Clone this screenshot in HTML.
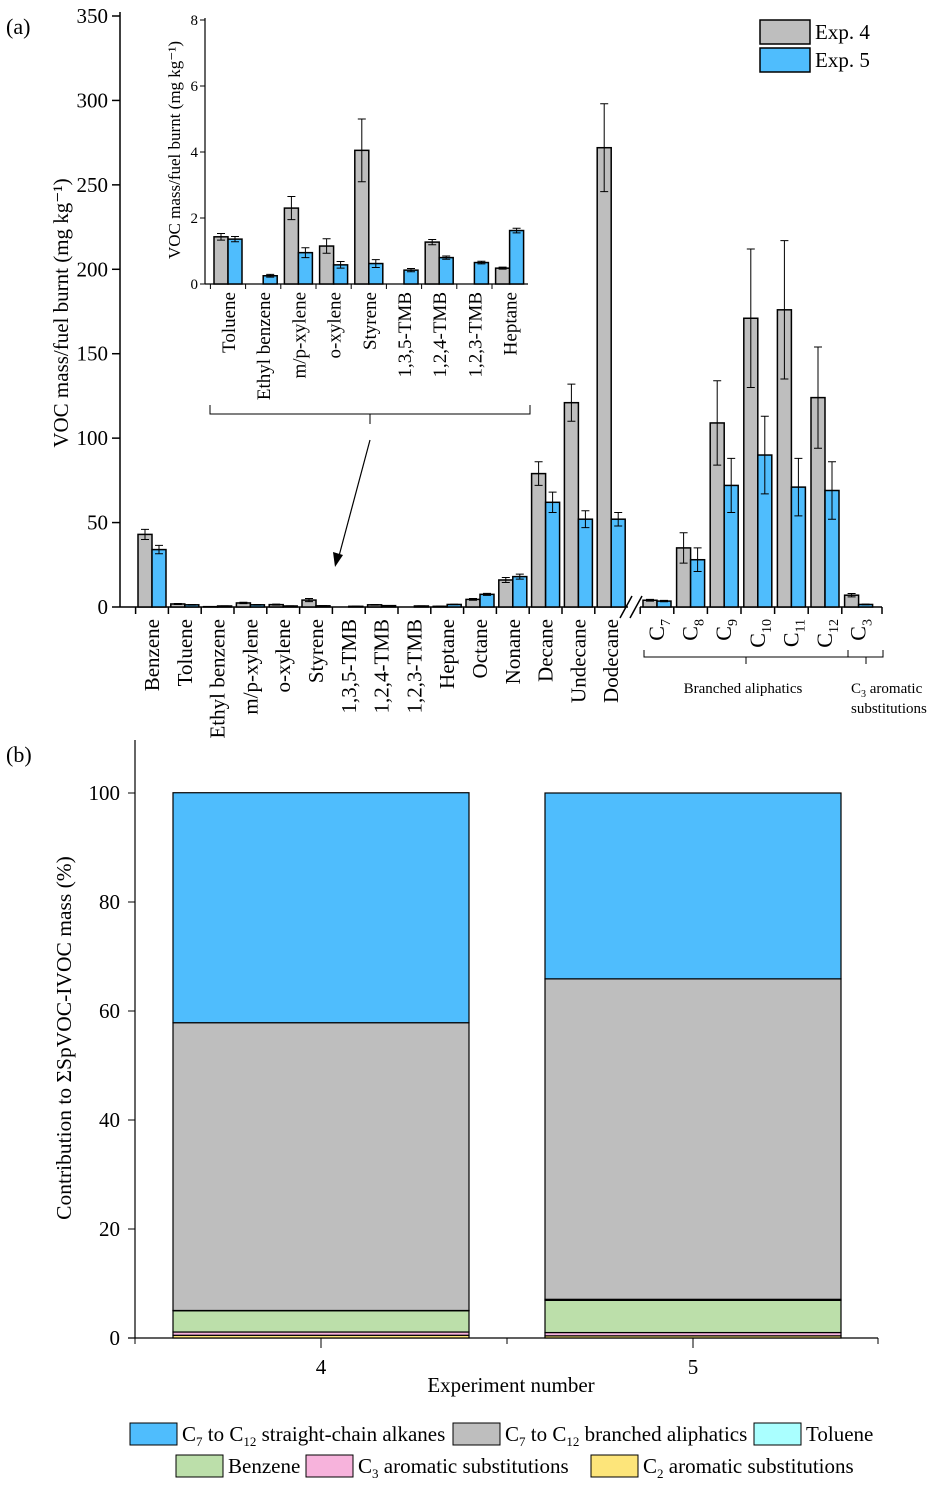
<!DOCTYPE html>
<html><head><meta charset="utf-8"><style>
body{margin:0;background:#fff}
svg{display:block;font-family:"Liberation Serif",serif}
</style></head><body>
<svg id="s" width="938" height="1486"></svg>
<script>
// ---- panel (a) data ----
const catsA=["Benzene","Toluene","Ethyl benzene","m/p-xylene","o-xylene","Styrene","1,3,5-TMB","1,2,4-TMB","1,2,3-TMB","Heptane","Octane","Nonane","Decane","Undecane","Dodecane"];
const exp4A=[43,1.8,0.2,2.4,1.4,4.1,0,1.3,0,0.4,4.5,16,79,121,272];
const exp5A=[34,1.3,0.6,1.3,0.6,0.7,0.4,0.8,0.6,1.5,7.5,18,62,52,52];
const err4A=[3,0.3,0,0.4,0.3,0.9,0,0.2,0,0.1,0.5,1.5,7,11,26];
const err5A=[2.5,0.2,0.1,0.2,0.1,0.1,0.1,0.1,0.1,0.1,0.6,1.5,6,5,4];
const catsB=["7","8","9","10","11","12","3"];
const exp4B=[4,35,109,171,176,124,7];
const exp5B=[3.5,28,72,90,71,69,1.5];
const err4B=[0.5,9,25,41,41,30,1];
const err5B=[0.4,7,16,23,17,17,0.2];
const ticksA=[0,50,100,150,200,250,300,350];
// inset
const catsI=["Toluene","Ethyl benzene","m/p-xylene","o-xylene","Styrene","1,3,5-TMB","1,2,4-TMB","1,2,3-TMB","Heptane"];
const exp4I=[1.43,0,2.3,1.15,4.05,0,1.27,0,0.48];
const exp5I=[1.36,0.25,0.95,0.58,0.62,0.42,0.8,0.65,1.62];
const err4I=[0.1,0,0.35,0.22,0.95,0,0.08,0,0.03];
const err5I=[0.08,0.04,0.15,0.1,0.12,0.05,0.05,0.04,0.07];
const ticksI=[0,2,4,6,8];
// ---- panel (b) data ----
const expsB=["4","5"];
const seriesNames=["C2 aromatic substitutions","C3 aromatic substitutions","Benzene","Toluene","C7 to C12 branched aliphatics","C7 to C12 straight-chain alkanes"];
const seriesColors=["#fde57a","#f7b3dc","#bcdfaa","#aaffff","#bebebe","#4fbdfd"];
const c2=[0.5,0.4];
const c3=[0.6,0.6];
const benz=[3.9,5.9];
const tol=[0.05,0.2];
const branched=[52.8,58.8];
const straight=[42.2,34.1];
const ticksP=[0,20,40,60,80,100];

const S=document.getElementById('s');const NS="http://www.w3.org/2000/svg";
function el(t,a,p,txt){const e=document.createElementNS(NS,t);for(const k in a)e.setAttribute(k,a[k]);if(txt!==undefined)e.textContent=txt;(p||S).appendChild(e);return e;}
const GRAY="#bebebe",BLUE="#4fbdfd";

// panel a axes
const ya=v=>607-v*591/350;
const xA=i=>152+i*32.8, xB=i=>657+i*33.6;
el('text',{x:6,y:34,'font-size':22,},null,'(a)');
el('line',{x1:120,y1:12,x2:120,y2:607,stroke:'#000','stroke-width':1.5,});
el('line',{x1:120,y1:607,x2:628,y2:607,stroke:'#000','stroke-width':1.5,});
el('line',{x1:640,y1:607,x2:882,y2:607,stroke:'#000','stroke-width':1.5,});
el('line',{x1:620,y1:618,x2:632,y2:596,stroke:'#000','stroke-width':1.5,});
el('line',{x1:630,y1:618,x2:642,y2:596,stroke:'#000','stroke-width':1.5,});
ticksA.forEach(t=>{const y=ya(t);
 el('line',{x1:112,y1:y,x2:120,y2:y,stroke:'#000','stroke-width':1.5,});
 el('text',{x:108,y:y+7,'font-size':21,'text-anchor':'end',},null,t);});
el('text',{transform:'translate(68,313) rotate(-90)','font-size':21,'text-anchor':'middle',},null,'VOC mass/fuel burnt (mg kg\u207B\u00B9)');
function bars(x,v4,v5,e4,e5,yf,w,name){
 [[v4,e4,GRAY,x-w],[v5,e5,BLUE,x]].forEach(([v,e,c,x0],k)=>{
  const r=el('rect',{x:x0,y:yf(v),width:w,height:Math.max(yf(0)-yf(v),0),fill:c,stroke:'#000','stroke-width':1.5});
  
  if(e>0){const cx=x0+w/2;el('path',{d:`M${cx} ${yf(v+e)}V${yf(v-e)}M${cx-4} ${yf(v+e)}H${cx+4}M${cx-4} ${yf(v-e)}H${cx+4}`,stroke:'#000','stroke-width':1,fill:'none',});}
 });}
catsA.forEach((c,i)=>{const x=xA(i);bars(x,exp4A[i],exp5A[i],err4A[i],err5A[i],ya,14,'bar-'+i);
 el('line',{x1:x-16.4,y1:607,x2:x-16.4,y2:614,stroke:'#000','stroke-width':1.5,});
 el('text',{transform:`translate(${x+7},619) rotate(-90)`,'font-size':21,'text-anchor':'end',},null,c);});
catsB.forEach((c,i)=>{const x=xB(i);bars(x,exp4B[i],exp5B[i],err4B[i],err5B[i],ya,14,'bar-branched-'+i);
 el('line',{x1:x-16.8,y1:607,x2:x-16.8,y2:614,stroke:'#000','stroke-width':1.5,});
 const t=el('text',{transform:`translate(${x+7},619) rotate(-90)`,'font-size':22,'text-anchor':'end',},null,'C');
 el('tspan',{'font-size':14,dy:6},t,c);});
el('line',{x1:882,y1:607,x2:882,y2:614,stroke:'#000','stroke-width':1.5});
el('path',{d:'M644 650V657H848V650M746 657V664M848 657H883V650M866 657V664',stroke:'#000',fill:'none',});
el('text',{x:743,y:693,'font-size':15,'text-anchor':'middle',},null,'Branched  aliphatics');
const t3=el('text',{x:851,y:693,'font-size':15,},null,'C');el('tspan',{'font-size':10,dy:4},t3,'3');el('tspan',{dy:-4},t3,' aromatic');
el('text',{x:851,y:713,'font-size':15,},null,'substitutions');
// legend a
el('rect',{x:760,y:20,width:50,height:24,fill:GRAY,stroke:'#000','stroke-width':1.5,});
el('rect',{x:760,y:48,width:50,height:24,fill:BLUE,stroke:'#000','stroke-width':1.5,});
el('text',{x:815,y:39,'font-size':21,},null,'Exp. 4');
el('text',{x:815,y:67,'font-size':21,},null,'Exp. 5');
// inset
const yi=v=>284-v*33;const xi=i=>228+i*35.2;
el('line',{x1:205,y1:18,x2:205,y2:284,stroke:'#000','stroke-width':1.2,});
el('line',{x1:205,y1:284,x2:528,y2:284,stroke:'#000','stroke-width':1.2,});
ticksI.forEach(t=>{const y=yi(t);el('line',{x1:200,y1:y,x2:205,y2:y,stroke:'#000'});
 el('text',{x:198,y:y+5,'font-size':15,'text-anchor':'end',},null,t);});
el('text',{transform:'translate(180,150) rotate(-90)','font-size':17,'text-anchor':'middle',},null,'VOC mass/fuel burnt (mg kg\u207B\u00B9)');
catsI.forEach((c,i)=>{const x=xi(i);bars(x,exp4I[i],exp5I[i],err4I[i],err5I[i],yi,14,'inset-bar-'+i);
 el('line',{x1:x-17.6,y1:284,x2:x-17.6,y2:289,stroke:'#000'});
 el('text',{transform:`translate(${x+7},292) rotate(-90)`,'font-size':19,'text-anchor':'end',},null,c);});
el('path',{d:'M210 405V414H530V405M370 414V424',stroke:'#000',fill:'none',});
el('line',{x1:370,y1:440,x2:339,y2:556,stroke:'#000','stroke-width':1.2,});
el('path',{d:'M335 567L333 552L343 555Z',fill:'#000'});

// panel b
const yp=v=>1338-v*5.45;
el('text',{x:6,y:762,'font-size':22,},null,'(b)');
el('line',{x1:135,y1:740,x2:135,y2:1338,stroke:'#000','stroke-width':1.2,});
el('line',{x1:128,y1:1338,x2:878,y2:1338,stroke:'#000','stroke-width':1.2,});
[135,507,878].forEach(x=>el('line',{x1:x,y1:1338,x2:x,y2:1344,stroke:'#000'}));
ticksP.forEach(t=>{const y=yp(t);el('line',{x1:128,y1:y,x2:135,y2:y,stroke:'#000'});
 el('text',{x:120,y:y+7,'font-size':21,'text-anchor':'end',},null,t);});
el('text',{transform:'translate(71,1038) rotate(-90)','font-size':21.5,'text-anchor':'middle',},null,'Contribution to \u03A3SpVOC-IVOC mass (%)');
const stacks=[c2,c3,benz,tol,branched,straight];
expsB.forEach((e,j)=>{const cx=321+j*372;let acc=0;
 stacks.forEach((s,k)=>{const r=el('rect',{x:cx-148,y:yp(acc+s[j]),width:296,height:s[j]*5.45,fill:seriesColors[k],stroke:'#000','stroke-width':1.2});
  acc+=s[j];});
 el('line',{x1:cx,y1:1338,x2:cx,y2:1348,stroke:'#000'});
 el('text',{x:cx,y:1374,'font-size':21,'text-anchor':'middle',},null,e);});
el('text',{x:511,y:1392,'font-size':21,'text-anchor':'middle',},null,'Experiment number');
// legend b
const leg=[[130,1423,5,'C','7',' to C','12',' straight-chain alkanes'],[453,1423,4,'C','7',' to C','12',' branched aliphatics'],[754,1423,3,'Toluene'],[176,1455,2,'Benzene'],[306,1455,1,'C','3',' aromatic  substitutions'],[591,1455,0,'C','2',' aromatic  substitutions']];
leg.forEach(l=>{el('rect',{x:l[0],y:l[1],width:47,height:22,fill:seriesColors[l[2]],stroke:'#000',});
 const t=el('text',{x:l[0]+52,y:l[1]+18,'font-size':21,});
 for(let i=3;i<l.length;i++){if(i%2==0&&l.length>4){el('tspan',{'font-size':13,dy:5},t,l[i]);}else{el('tspan',{dy:(i>3&&l.length>4)?-5:0},t,l[i]);}}});
</script>
</body></html>
